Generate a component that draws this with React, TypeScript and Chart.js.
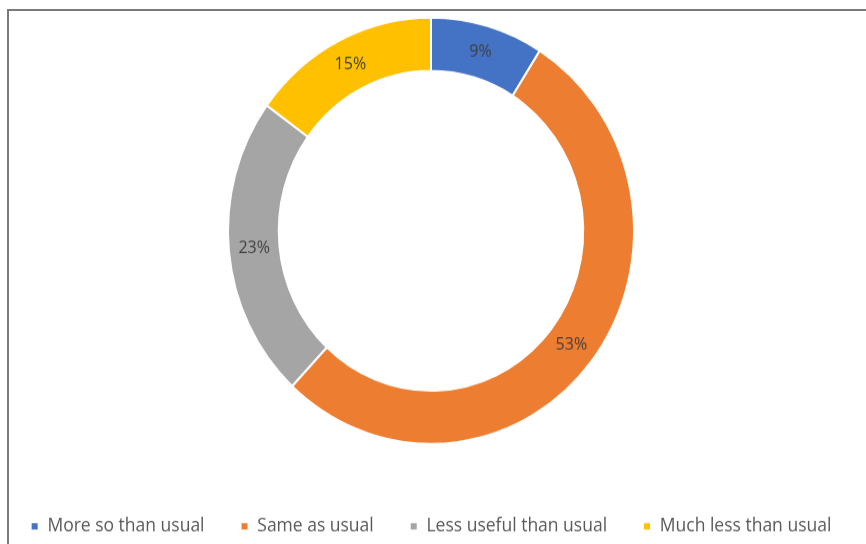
import React, { useEffect, useRef } from "react";
import { Chart, registerables } from "chart.js";

Chart.register(...registerables);

const categories = ["More so than usual", "Same as usual", "Less useful than usual", "Much less than usual"];
const values = [9, 53, 23, 15];
const sliceLabels = ["9%", "53%", "23%", "15%"];
const colors = ["#4472C4", "#ED7D31", "#A5A5A5", "#FFC000"];

const W = 920;
const H = 539;
const SY = 544 / 518;
const OFF_Y = 19;
const OFF_X = 29;

const labelPlugin = {
  id: "sliceLabels",
  afterDatasetsDraw(chart: any) {
    const ctx = chart.ctx;
    const meta = chart.getDatasetMeta(0);
    ctx.save();
    ctx.font = "16px 'Open Sans'";
    ctx.fillStyle = "#404040";
    ctx.textAlign = "center";
    ctx.textBaseline = "middle";
    meta.data.forEach((arc: any, i: number) => {
      const p = arc.tooltipPosition(false);
      ctx.fillText(sliceLabels[i], p.x, p.y);
    });
    ctx.restore();
  },
};

export default function App() {
  const ref = useRef<HTMLCanvasElement>(null);
  useEffect(() => {
    const chart = new Chart(ref.current as HTMLCanvasElement, {
      type: "doughnut",
      data: {
        labels: categories,
        datasets: [
          {
            data: values,
            backgroundColor: colors,
            borderColor: "#ffffff",
            borderWidth: 2,
          },
        ],
      },
      options: {
        animation: false,
        responsive: false,
        maintainAspectRatio: false,
        radius: 203,
        cutout: "75%",
        layout: { padding: { top: 2, bottom: 0, left: 0, right: 0 } },
        plugins: {
          legend: {
            position: "bottom",
            labels: {
              boxWidth: 8,
              boxHeight: 8,
              padding: 36,
              color: "#595959",
              font: { family: "'Open Sans'", size: 17.5 },
            },
          },
          tooltip: { enabled: false },
        },
      } as any,
      plugins: [labelPlugin],
    });
    return () => chart.destroy();
  }, []);

  return (
    <div style={{ position: "fixed", left: 0, top: 0, width: 866, height: 544, overflow: "hidden", background: "#fff" }}>
      <div
        style={{
          position: "absolute",
          left: -OFF_X,
          top: -OFF_Y * SY,
          width: W,
          height: H,
          transform: `scaleY(${SY})`,
          transformOrigin: "0 0",
        }}
      >
        <canvas ref={ref} width={W} height={H} style={{ width: W, height: H, display: "block" }} />
      </div>
      <div style={{ position: "absolute", left: 7, top: 9, width: 880, height: 560, border: "2px solid #7a7a7a", boxSizing: "border-box" }} />
    </div>
  );
}
